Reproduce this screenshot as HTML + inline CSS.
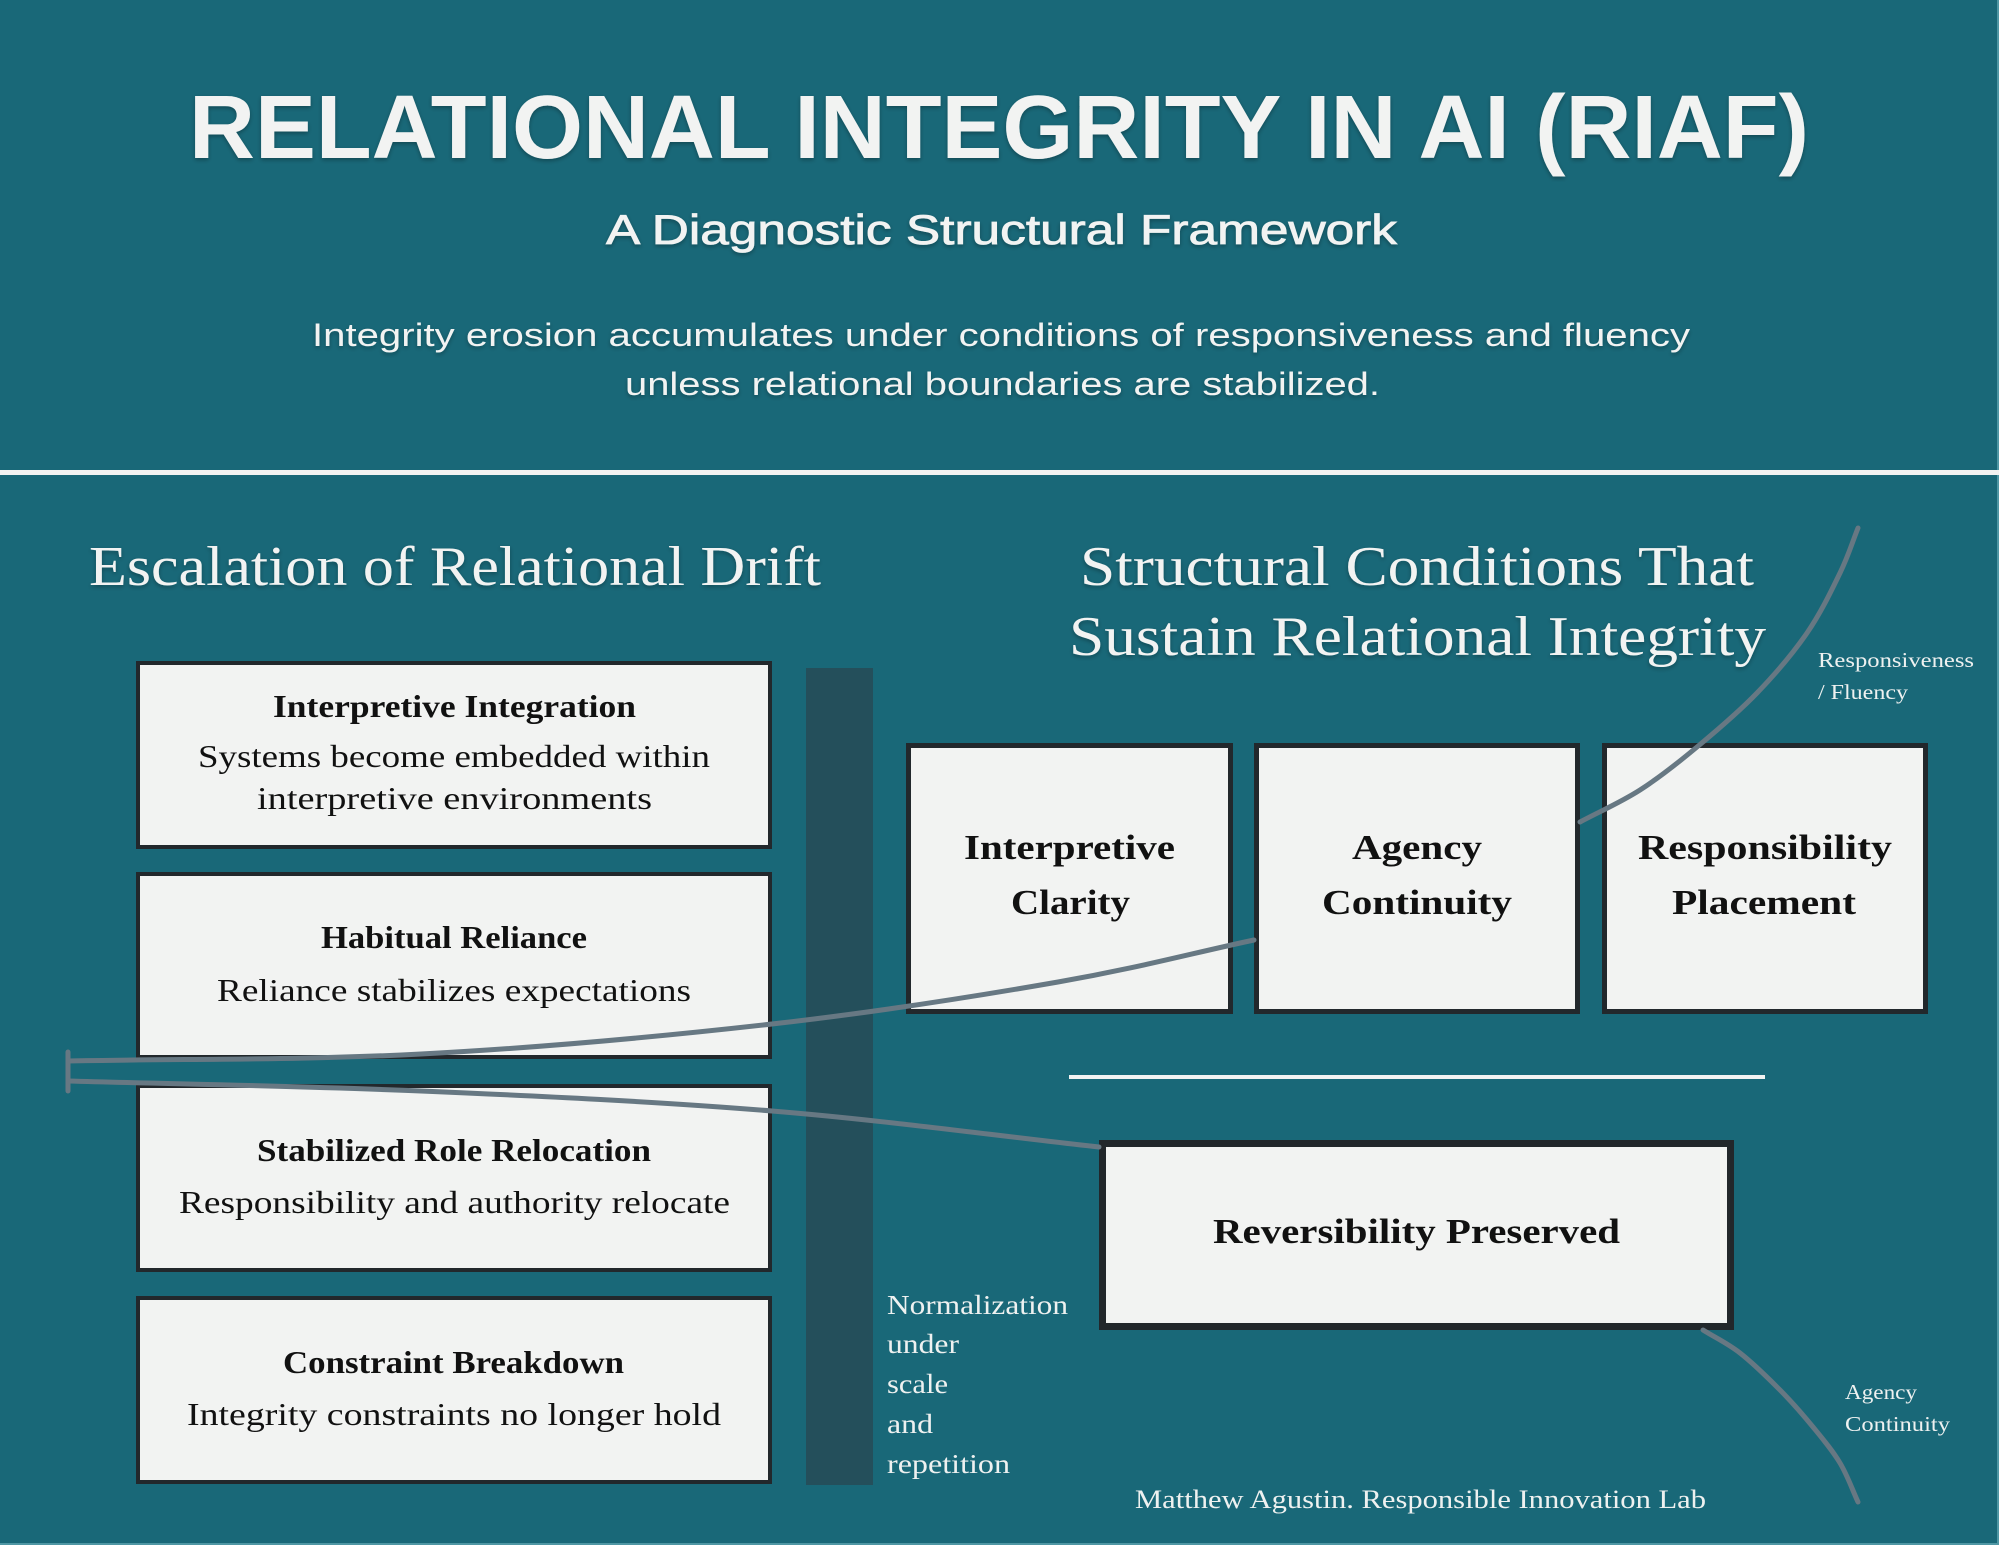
<!DOCTYPE html>
<html>
<head>
<meta charset="utf-8">
<style>
  html, body { margin: 0; padding: 0; background: #196878; }
  body { width: 1999px; height: 1545px; overflow: hidden; }
  svg { display: block; }
  .sans { font-family: "Liberation Sans", sans-serif; }
  .serif { font-family: "Liberation Serif", serif; }
</style>
</head>
<body>
<svg width="1999" height="1545" viewBox="0 0 1999 1545" xmlns="http://www.w3.org/2000/svg">
  <defs>
    <filter id="sh" x="-5%" y="-30%" width="110%" height="160%">
      <feDropShadow dx="0" dy="2" stdDeviation="2" flood-color="#000" flood-opacity="0.3"/>
    </filter>
  </defs>

  <!-- background -->
  <rect x="0" y="0" width="1999" height="1545" fill="#196878"/>
  <rect x="1997" y="0" width="2" height="1545" fill="#4f97a4"/>
  <rect x="0" y="1543" width="1999" height="2" fill="#4f97a4"/>

  <!-- header separator -->
  <rect x="0" y="470" width="1999" height="5" fill="#f2f3f2"/>

  <!-- header texts -->
  <g fill="#f2f3f2" filter="url(#sh)">
    <text class="sans" x="189" y="158" font-size="90" font-weight="bold" textLength="1620" lengthAdjust="spacingAndGlyphs">RELATIONAL INTEGRITY IN AI (RIAF)</text>
    <text class="sans" x="606" y="244" font-size="42" stroke="#f2f3f2" stroke-width="0.8" textLength="791" lengthAdjust="spacingAndGlyphs">A Diagnostic Structural Framework</text>
    <text class="sans" x="312" y="346" font-size="32" textLength="1378" lengthAdjust="spacingAndGlyphs">Integrity erosion accumulates under conditions of responsiveness and fluency</text>
    <text class="sans" x="625" y="395" font-size="32" textLength="755" lengthAdjust="spacingAndGlyphs">unless relational boundaries are stabilized.</text>

    <text class="serif" x="89" y="585" font-size="56" textLength="732" lengthAdjust="spacingAndGlyphs">Escalation of Relational Drift</text>
    <text class="serif" x="1080" y="585" font-size="56" textLength="674" lengthAdjust="spacingAndGlyphs">Structural Conditions That</text>
    <text class="serif" x="1069" y="655" font-size="56" textLength="697" lengthAdjust="spacingAndGlyphs">Sustain Relational Integrity</text>
  </g>

  <!-- dark vertical bar -->
  <rect x="806" y="668" width="67" height="817" fill="#244f5b"/>

  <!-- left boxes (outer 136..772) -->
  <g fill="#f2f3f2" stroke="#22282c" stroke-width="4">
    <rect x="138" y="663" width="632" height="184"/>
    <rect x="138" y="874" width="632" height="183"/>
    <rect x="138" y="1086" width="632" height="184"/>
    <rect x="138" y="1298" width="632" height="184"/>
  </g>

  <!-- top-right boxes -->
  <g fill="#f2f3f2" stroke="#22282c" stroke-width="5">
    <rect x="908.5" y="745.5" width="322" height="266"/>
    <rect x="1256.5" y="745.5" width="321" height="266"/>
    <rect x="1604.5" y="745.5" width="321" height="266"/>
  </g>

  <!-- divider on right -->
  <rect x="1069" y="1075" width="696" height="4" fill="#f2f3f2"/>

  <!-- reversibility box -->
  <rect x="1102.5" y="1143.5" width="628" height="183" fill="#f2f3f2" stroke="#22272b" stroke-width="7"/>

  <!-- connectors -->
  <g fill="none" stroke="#677883" stroke-width="5" stroke-linecap="round">
    <path d="M68 1061 C185.7 1058.7 303.7 1060.2 421 1054 C538.3 1047.8 665.8 1036 772 1024 C878.2 1012 977.7 996 1058 982 C1138.3 968 1188.7 954 1254 940"/>
    <path d="M68 1081 C185.7 1084.3 303.7 1086 421 1091 C538.3 1096 659 1101.7 772 1111 C885 1120.3 990 1135 1099 1147"/>
    <line x1="68" y1="1052" x2="68" y2="1091"/>
    <path d="M1580 822 C1600 811.3 1620.5 802.5 1640 790 C1659.5 777.5 1677.5 763.2 1697 747 C1716.5 730.8 1738.7 712 1757 693 C1775.3 674 1793.2 653 1807 633 C1820.8 613 1831.5 590.5 1840 573 C1848.5 555.5 1852 543 1858 528"/>
    <path d="M1703 1330 C1715.3 1337.7 1727.2 1343 1740 1353 C1752.8 1363 1767.8 1377.7 1780 1390 C1792.2 1402.3 1803 1414.8 1813 1427 C1823 1439.2 1832.5 1450.5 1840 1463 C1847.5 1475.5 1852 1489 1858 1502"/>
  </g>

  <!-- left box texts -->
  <g class="serif" fill="#111" font-size="32">
    <text x="273" y="717" font-weight="bold" textLength="363" lengthAdjust="spacingAndGlyphs">Interpretive Integration</text>
    <text x="198" y="767" textLength="512" lengthAdjust="spacingAndGlyphs">Systems become embedded within</text>
    <text x="257" y="809" textLength="395" lengthAdjust="spacingAndGlyphs">interpretive environments</text>

    <text x="321" y="948" font-weight="bold" textLength="266" lengthAdjust="spacingAndGlyphs">Habitual Reliance</text>
    <text x="217" y="1001" textLength="474" lengthAdjust="spacingAndGlyphs">Reliance stabilizes expectations</text>

    <text x="257" y="1161" font-weight="bold" textLength="394" lengthAdjust="spacingAndGlyphs">Stabilized Role Relocation</text>
    <text x="179" y="1213" textLength="551" lengthAdjust="spacingAndGlyphs">Responsibility and authority relocate</text>

    <text x="283" y="1373" font-weight="bold" textLength="341" lengthAdjust="spacingAndGlyphs">Constraint Breakdown</text>
    <text x="187" y="1425" textLength="534" lengthAdjust="spacingAndGlyphs">Integrity constraints no longer hold</text>
  </g>

  <!-- top box texts -->
  <g class="serif" fill="#111" font-size="35" font-weight="bold">
    <text x="964" y="859" textLength="211" lengthAdjust="spacingAndGlyphs">Interpretive</text>
    <text x="1011" y="914" textLength="119" lengthAdjust="spacingAndGlyphs">Clarity</text>
    <text x="1352" y="859" textLength="130" lengthAdjust="spacingAndGlyphs">Agency</text>
    <text x="1322" y="914" textLength="190" lengthAdjust="spacingAndGlyphs">Continuity</text>
    <text x="1638" y="859" textLength="254" lengthAdjust="spacingAndGlyphs">Responsibility</text>
    <text x="1672" y="914" textLength="184" lengthAdjust="spacingAndGlyphs">Placement</text>
    <text x="1213" y="1243" textLength="407" lengthAdjust="spacingAndGlyphs">Reversibility Preserved</text>
  </g>

  <!-- small labels -->
  <g class="serif" fill="#eef1f0">
    <text x="887" y="1314" font-size="27" textLength="181" lengthAdjust="spacingAndGlyphs">Normalization</text>
    <text x="887" y="1353" font-size="27" textLength="72" lengthAdjust="spacingAndGlyphs">under</text>
    <text x="887" y="1393" font-size="27" textLength="61" lengthAdjust="spacingAndGlyphs">scale</text>
    <text x="887" y="1433" font-size="27" textLength="46" lengthAdjust="spacingAndGlyphs">and</text>
    <text x="887" y="1473" font-size="27" textLength="123" lengthAdjust="spacingAndGlyphs">repetition</text>

    <text x="1818" y="667" font-size="21" textLength="156" lengthAdjust="spacingAndGlyphs">Responsiveness</text>
    <text x="1818" y="699" font-size="21" textLength="90" lengthAdjust="spacingAndGlyphs">/ Fluency</text>

    <text x="1845" y="1399" font-size="21" textLength="72" lengthAdjust="spacingAndGlyphs">Agency</text>
    <text x="1845" y="1431" font-size="21" textLength="105" lengthAdjust="spacingAndGlyphs">Continuity</text>

    <text x="1135" y="1508" font-size="26" textLength="571" lengthAdjust="spacingAndGlyphs">Matthew Agustin. Responsible Innovation Lab</text>
  </g>
</svg>
</body>
</html>
